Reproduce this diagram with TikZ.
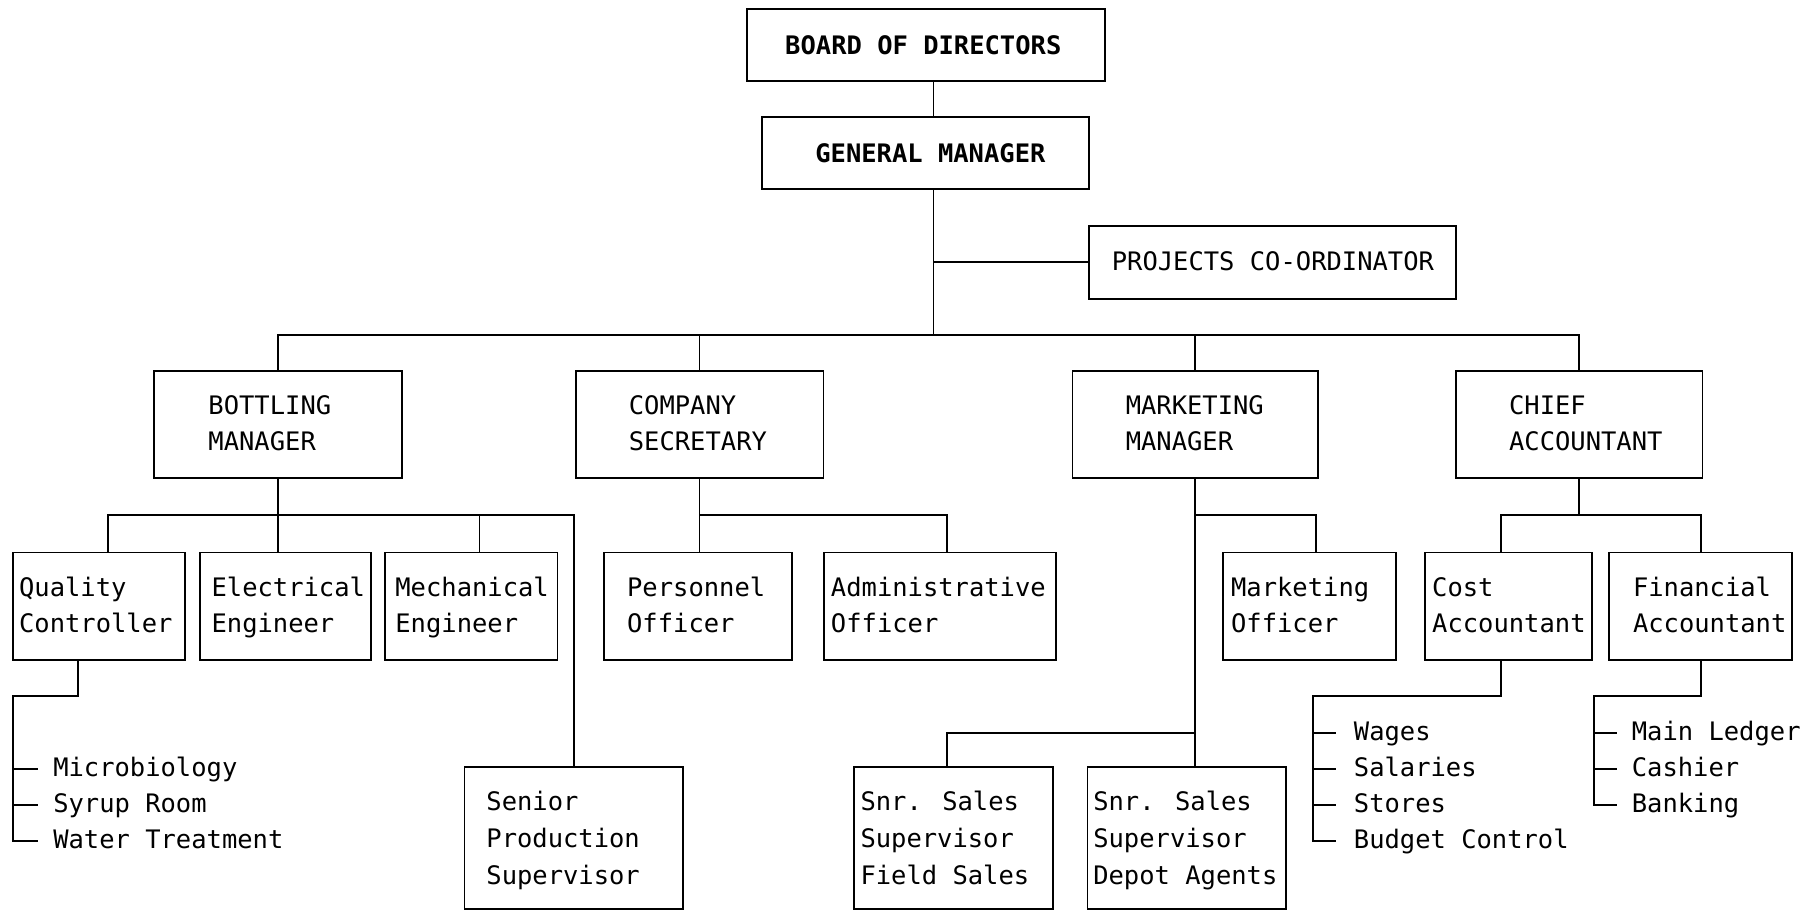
\documentclass[tikz,border=0pt]{standalone}
\usepackage{fontspec}
\newfontfamily\chartfont{DejaVu Sans Mono}
\begin{document}
\begin{tikzpicture}[x=1pt,y=-1pt,
  every node/.style={inner sep=0pt, outer sep=0pt},
  unit/.style={draw, line width=1.6pt, rectangle, anchor=north west},
  caption/.style={anchor=west, align=left, font=\chartfont\fontsize{22}{31}\selectfont},
  tallcaption/.style={anchor=west, align=left, yshift=-2pt, font=\chartfont\fontsize{22}{32}\selectfont},
  item/.style={anchor=west, font=\chartfont\fontsize{22}{31}\selectfont},
  link/.style={line width=1.6pt, line cap=rect},
]
\useasboundingbox[fill=white] (0,0) rectangle (1568,787);

% ---- boxes ----
\node[unit, minimum width=309pt, minimum height=62pt] (board) at (645,8) {};
\node[unit, minimum width=282pt, minimum height=62pt] (gm) at (658,101) {};
\node[unit, minimum width=317pt, minimum height=63pt] (proj) at (940,195) {};

\node[unit, minimum width=214pt, minimum height=93pt] (bott) at (133,320) {};
\node[unit, minimum width=214pt, minimum height=93pt] (comp) at (497,320) {};
\node[unit, minimum width=212pt, minimum height=93pt] (mkt) at (926,320) {};
\node[unit, minimum width=213pt, minimum height=93pt] (chief) at (1257,320) {};

\node[unit, minimum width=148pt, minimum height=93pt] (qc) at (11.5,477) {};
\node[unit, minimum width=147.5pt, minimum height=93pt] (elec) at (172.7,477) {};
\node[unit, minimum width=149pt, minimum height=93pt] (mech) at (332.4,477) {};
\node[unit, minimum width=162.5pt, minimum height=93pt] (pers) at (521.5,477) {};
\node[unit, minimum width=200.5pt, minimum height=93pt] (admin) at (711.5,477) {};
\node[unit, minimum width=149pt, minimum height=93pt] (mko) at (1056,477) {};
\node[unit, minimum width=144pt, minimum height=93pt] (cost) at (1230.6,477) {};
\node[unit, minimum width=158pt, minimum height=93pt] (fin) at (1389,477) {};

\node[unit, minimum width=188.5pt, minimum height=123pt] (senior) at (401,662) {};
\node[unit, minimum width=172pt, minimum height=123pt] (fs) at (737,662) {};
\node[unit, minimum width=171pt, minimum height=123pt] (depot) at (939,662) {};

% ---- box texts ----
\node[caption, yshift=-2pt] (board-t) at ([xshift=33pt]board.west) {\strut\bfseries BOARD OF DIRECTORS};
\node[caption, yshift=-2pt] (gm-t) at ([xshift=46pt]gm.west) {\strut\bfseries GENERAL MANAGER};
\node[caption, yshift=-1pt] (proj-t) at ([xshift=20pt]proj.west) {\strut PROJECTS CO-ORDINATOR};

\node[caption, yshift=-1pt] (bott-t) at ([xshift=47pt]bott.west) {\strut BOTTLING\\\strut MANAGER};
\node[caption, yshift=-1pt] (comp-t) at ([xshift=46pt]comp.west) {\strut COMPANY\\\strut SECRETARY};
\node[caption, yshift=-1pt] (mkt-t) at ([xshift=46pt]mkt.west) {\strut MARKETING\\\strut MANAGER};
\node[caption, yshift=-1pt] (chief-t) at ([xshift=46pt]chief.west) {\strut CHIEF\\\strut ACCOUNTANT};

\node[caption, yshift=-1pt] (qc-t) at ([xshift=5pt]qc.west) {\strut Quality\\\strut Controller};
\node[caption, yshift=-1pt] (elec-t) at ([xshift=10pt]elec.west) {\strut Electrical\\\strut Engineer};
\node[caption, yshift=-1pt] (mech-t) at ([xshift=9pt]mech.west) {\strut Mechanical\\\strut Engineer};
\node[caption, yshift=-1pt] (pers-t) at ([xshift=20pt]pers.west) {\strut Personnel\\\strut Officer};
\node[caption, yshift=-1pt] (admin-t) at ([xshift=6pt]admin.west) {\strut Administrative\\\strut Officer};
\node[caption, yshift=-1pt] (mko-t) at ([xshift=7pt]mko.west) {\strut Marketing\\\strut Officer};
\node[caption, yshift=-1pt] (cost-t) at ([xshift=6pt]cost.west) {\strut Cost\\\strut Accountant};
\node[caption, yshift=-1pt] (fin-t) at ([xshift=21pt]fin.west) {\strut Financial\\\strut Accountant};

\node[tallcaption] (senior-t) at ([xshift=19pt]senior.west) {\strut Senior\\\strut Production\\\strut Supervisor};
\node[tallcaption] (fs-t) at ([xshift=6pt]fs.west) {\strut Snr. Sales\\\strut Supervisor\\\strut Field Sales};
\node[tallcaption] (depot-t) at ([xshift=5pt]depot.west) {\strut Snr. Sales\\\strut Supervisor\\\strut Depot Agents};

% ---- guide lines for connectors ----
\coordinate (axis) at (806,0);
\coordinate (busTop) at (0,289);
\coordinate (busMid) at (0,445);
\coordinate (busSales) at (0,633);
\coordinate (subBus) at (0,601);
\coordinate (qcDrop) at (93,0);
\coordinate (mechDrop) at (414,0);
\coordinate (adminDrop) at (818,0);
\coordinate (mkoDrop) at (1136,0);
\coordinate (fsDrop) at (818,0);
\coordinate (costDrop) at (1296,0);
\coordinate (finDrop) at (1469,0);
\coordinate (qcSub) at (67,0);
\coordinate (qcList) at (11,0);
\coordinate (costList) at (1134,0);
\coordinate (finList) at (1376,0);

% ---- top of the chart ----
\draw[link] (board.south -| axis) -- (gm.north -| axis);
\draw[link] (gm.south -| axis) -- (axis |- busTop);
\draw[link] (axis |- proj.west) -- (proj.west);
\draw[link] (bott.north) -- (bott.north |- busTop) -- (chief.north |- busTop) -- (chief.north);
\draw[link] (comp.north) -- (comp.north |- busTop);
\draw[link] (mkt.north) -- (mkt.north |- busTop);

% ---- bottling ----
\draw[link] (bott.south) -- (bott.south |- elec.north);
\draw[link] (qc.north -| qcDrop) -- (qcDrop |- busMid) -- (senior.north |- busMid) -- (senior.north);
\draw[link] (mech.north -| mechDrop) -- (mechDrop |- busMid);

% ---- company secretary ----
\draw[link] (comp.south) -- (comp.south |- pers.north);
\draw[link] (comp.south |- busMid) -- (adminDrop |- busMid) -- (admin.north -| adminDrop);

% ---- marketing ----
\draw[link] (mkt.south) -- (mkt.south |- depot.north);
\draw[link] (mkt.south |- busMid) -- (mkoDrop |- busMid) -- (mko.north -| mkoDrop);
\draw[link] (mkt.south |- busSales) -- (fsDrop |- busSales) -- (fs.north -| fsDrop);

% ---- chief accountant ----
\draw[link] (chief.south) -- (chief.south |- busMid);
\draw[link] (cost.north -| costDrop) -- (costDrop |- busMid) -- (finDrop |- busMid) -- (fin.north -| finDrop);

% ---- section lists ----
\node[item] (micro) at (46,664) {\strut Microbiology};
\node[item] (syrup) at (46,695) {\strut Syrup Room};
\node[item] (water) at (46,726) {\strut Water Treatment};
\draw[link] (qc.south -| qcSub) -- (qcSub |- subBus) -- (qcList |- subBus) -- (qcList |- water.west);
\foreach \n in {micro,syrup,water}
  \draw[link] (qcList |- \n.west) -- ([xshift=-14pt]\n.west);

\node[item] (wages) at (1169,633) {\strut Wages};
\node[item] (salaries) at (1169,664) {\strut Salaries};
\node[item] (stores) at (1169,695) {\strut Stores};
\node[item] (budget) at (1169,726) {\strut Budget Control};
\draw[link] (cost.south -| costDrop) -- (costDrop |- subBus) -- (costList |- subBus) -- (costList |- budget.west);
\foreach \n in {wages,salaries,stores,budget}
  \draw[link] (costList |- \n.west) -- ([xshift=-16pt]\n.west);

\node[item] (ledger) at (1409,633) {\strut Main Ledger};
\node[item] (cashier) at (1409,664) {\strut Cashier};
\node[item] (banking) at (1409,695) {\strut Banking};
\draw[link] (fin.south -| finDrop) -- (finDrop |- subBus) -- (finList |- subBus) -- (finList |- banking.west);
\foreach \n in {ledger,cashier,banking}
  \draw[link] (finList |- \n.west) -- ([xshift=-14pt]\n.west);
\end{tikzpicture}
\end{document}
